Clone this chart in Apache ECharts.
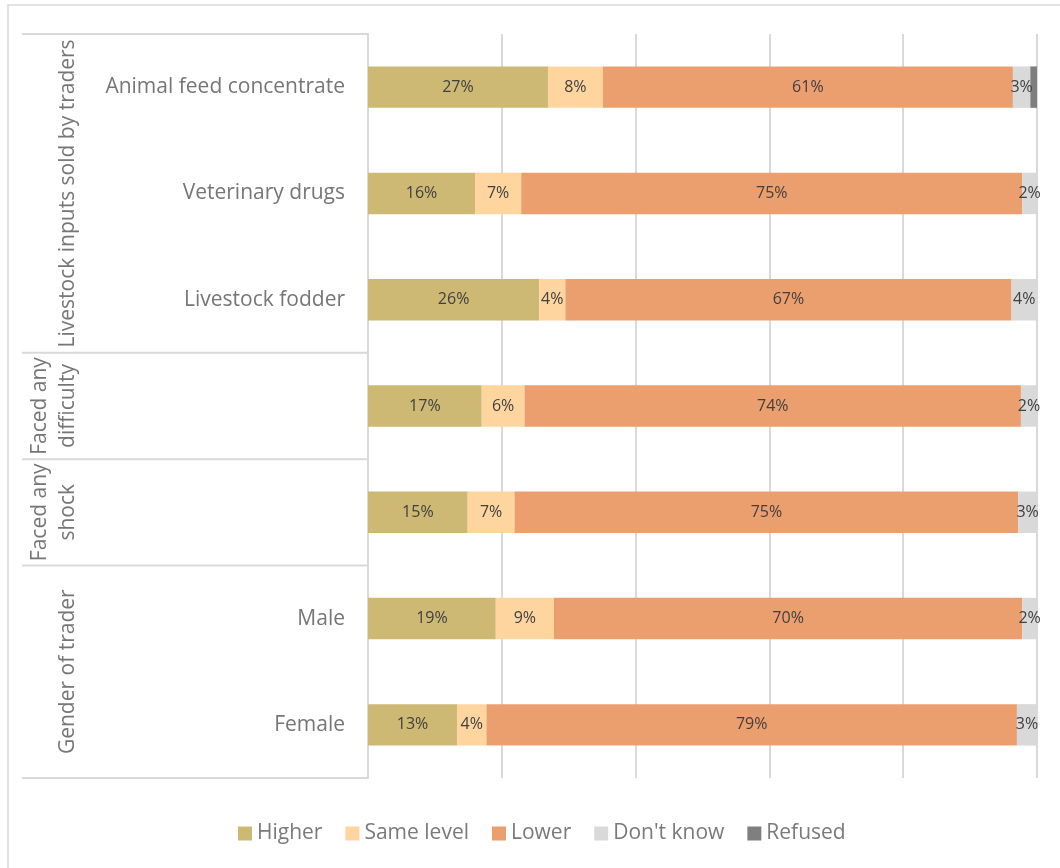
<!DOCTYPE html>
<html>
<head>
<meta charset="utf-8">
<script src="https://cdn.jsdelivr.net/npm/echarts@6/dist/echarts.min.js"></script>
<style>
  html, body { margin: 0; padding: 0; background: #ffffff; }
  #chart { width: 1060px; height: 868px; }
</style>
</head>
<body>
<div id="chart"></div>
<script>
// Row labels (top to bottom); empty where only the group label names the row
const categories = ['Animal feed concentrate', 'Veterinary drugs', 'Livestock fodder', '', '', 'Male', 'Female'];

// Groups of rows: label and how many rows each spans
const groupLabels = ['Livestock inputs sold by traders', 'Faced any\ndifficulty', 'Faced any\nshock', 'Gender of trader'];
const groupSizes = [3, 1, 1, 2];

// Share of traders (%) per answer
const higher    = [26.9, 16.0, 25.6, 17.0, 14.9, 19.1, 13.3];
const sameLevel = [8.2, 6.9, 3.9, 6.4, 7.0, 8.7, 4.4];
const lower     = [61.3, 74.9, 66.7, 74.2, 75.3, 70.0, 79.3];
const dontKnow  = [2.6, 2.2, 3.8, 2.4, 2.8, 2.2, 3.0];
const refused   = [1.0, 0, 0, 0, 0, 0, 0];

const seriesNames = ['Higher', 'Same level', 'Lower', "Don't know", 'Refused'];
const seriesData = [higher, sameLevel, lower, dontKnow, refused];
const colors = ['#CDB874', '#FFD59F', '#EC9F6E', '#D9D9D9', '#7F7F7F'];
const labelled = [true, true, true, true, false];

const FONT = '"Open Sans", "Noto Sans", sans-serif';
const GRID = { left: 368, right: 23, top: 34, bottom: 90 };

const chart = echarts.init(document.getElementById('chart'), null, { renderer: 'canvas' });

const series = seriesNames.map((name, i) => ({
  name: name,
  type: 'bar',
  stack: 'total',
  barWidth: '39%',
  itemStyle: { color: colors[i] },
  emphasis: { disabled: true },
  label: {
    show: labelled[i],
    position: 'inside',
    fontFamily: FONT,
    fontSize: 16,
    color: '#404040',
    padding: [3, 0, 0, 0],
    formatter: p => (p.value > 0 ? Math.round(p.value) + '%' : '')
  },
  data: seriesData[i]
}));

chart.setOption({
  animation: false,
  backgroundColor: '#ffffff',
  textStyle: { fontFamily: FONT },
  grid: GRID,
  legend: {
    bottom: 19,
    left: 233,
    itemWidth: 14,
    itemHeight: 14,
    itemGap: 23,
    icon: 'rect',
    textStyle: { fontFamily: FONT, fontSize: 21, color: '#7A7A7A' },
    data: seriesNames
  },
  xAxis: {
    type: 'value',
    min: 0,
    max: 100,
    interval: 20,
    axisLabel: { show: false },
    axisLine: { show: false },
    axisTick: { show: false },
    splitLine: { lineStyle: { color: '#D9D9D9', width: 2 } }
  },
  yAxis: {
    type: 'category',
    inverse: true,
    data: categories,
    axisLine: { show: true, lineStyle: { color: '#D9D9D9', width: 2 } },
    axisTick: { show: false },
    axisLabel: {
      margin: 23,
      fontFamily: FONT,
      fontSize: 21,
      color: '#767676',
      padding: [4, 0, 0, 0]
    }
  },
  series: series
});

// Group labels and the separator lines of the row table, placed from the axis scale
function drawGroups() {
  const c0 = chart.convertToPixel({ yAxisIndex: 0 }, 0);
  const c1 = chart.convertToPixel({ yAxisIndex: 0 }, 1);
  const band = c1 - c0;
  const top = c0 - band / 2;
  const axisX = chart.convertToPixel({ xAxisIndex: 0 }, 0);
  const leftX = 22;
  const elements = [];

  // outer frame (top and left edges)
  elements.push({
    type: 'rect', silent: true,
    shape: { x: 8, y: 5, width: 1200, height: 1000 },
    style: { fill: 'none', stroke: '#D9D9D9', lineWidth: 1.5 }
  });

  let start = 0;
  const bounds = [top];
  groupSizes.forEach((n, g) => {
    const y0 = top + start * band;
    const y1 = top + (start + n) * band;
    bounds.push(y1);
    const twoLine = groupLabels[g].indexOf('\n') >= 0;
    elements.push({
      type: 'text', silent: true,
      x: twoLine ? 54 : 68,
      y: (y0 + y1) / 2,
      rotation: Math.PI / 2,
      style: {
        text: groupLabels[g],
        fontFamily: FONT,
        fontSize: 21,
        fill: '#767676',
        align: 'center',
        verticalAlign: 'middle',
        lineHeight: 28
      }
    });
    start += n;
  });

  bounds.forEach(y => {
    elements.push({
      type: 'line', silent: true,
      shape: { x1: leftX, y1: y, x2: axisX, y2: y },
      style: { stroke: '#D9D9D9', lineWidth: 2 }
    });
  });

  chart.setOption({ graphic: { elements: elements } });
}
drawGroups();
</script>
</body>
</html>
